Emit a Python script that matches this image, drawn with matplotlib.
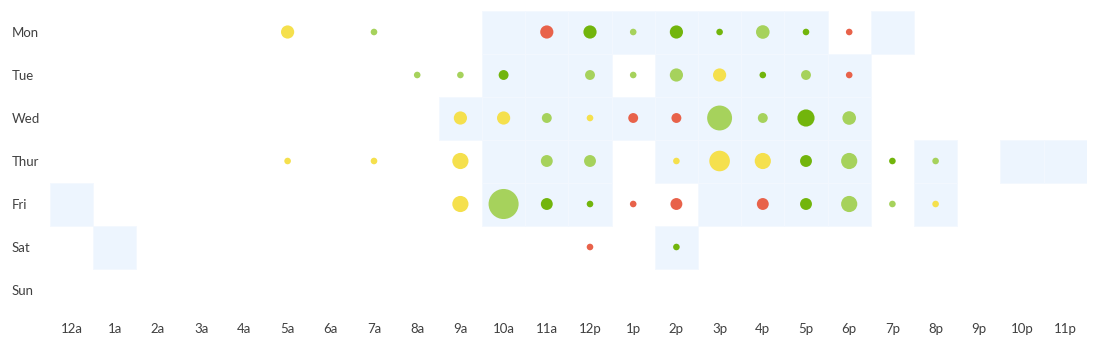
import matplotlib

matplotlib.use("Agg")
import matplotlib.pyplot as plt
import numpy as np

days = ["Mon", "Tue", "Wed", "Thur", "Fri", "Sat", "Sun"]
hour_labels = ["12a", "1a", "2a", "3a", "4a", "5a", "6a", "7a", "8a", "9a", "10a", "11a",
               "12p", "1p", "2p", "3p", "4p", "5p", "6p", "7p", "8p", "9p", "10p", "11p"]

# hours (0-23) that are shaded for each day
active_hours = {
    "Mon": [10, 11, 12, 13, 14, 15, 16, 17, 19],
    "Tue": [10, 11, 12, 14, 15, 16, 17, 18],
    "Wed": [9, 10, 11, 12, 13, 14, 15, 16, 17, 18],
    "Thur": [10, 11, 12, 14, 15, 16, 17, 18, 20, 22, 23],
    "Fri": [0, 10, 11, 12, 15, 16, 17, 18, 20],
    "Sat": [1, 14],
    "Sun": [],
}

# per day: hour, rating level, count
dot_hours = {
    "Mon": [5, 7, 11, 12, 13, 14, 15, 16, 17, 18],
    "Tue": [8, 9, 10, 12, 13, 14, 15, 16, 17, 18],
    "Wed": [9, 10, 11, 12, 13, 14, 15, 16, 17, 18],
    "Thur": [5, 7, 9, 11, 12, 14, 15, 16, 17, 18, 19, 20],
    "Fri": [9, 10, 11, 12, 13, 14, 16, 17, 18, 19, 20],
    "Sat": [12, 14],
    "Sun": [],
}
dot_levels = {
    "Mon": ["fair", "good", "poor", "great", "good", "great", "great", "good", "great", "poor"],
    "Tue": ["good", "good", "great", "good", "good", "good", "fair", "great", "good", "poor"],
    "Wed": ["fair", "fair", "good", "fair", "poor", "poor", "good", "good", "great", "good"],
    "Thur": ["fair", "fair", "fair", "good", "good", "fair", "fair", "fair", "great", "good",
             "great", "good"],
    "Fri": ["fair", "good", "great", "great", "poor", "poor", "poor", "great", "good", "good",
            "fair"],
    "Sat": ["poor", "great"],
    "Sun": [],
}
dot_counts = {
    "Mon": [16, 4, 16, 16, 4, 16, 4, 17, 4, 4],
    "Tue": [4, 4, 9, 9, 4, 16, 16, 4, 9, 4],
    "Wed": [16, 16, 9, 4, 9, 9, 57, 9, 27, 17],
    "Thur": [4, 4, 24, 13, 13, 4, 39, 24, 13, 24, 4, 4],
    "Fri": [24, 83, 13, 4, 4, 13, 13, 13, 24, 4, 4],
    "Sat": [4, 4],
    "Sun": [],
}

level_colors = {
    "poor": "#e8624a",
    "fair": "#f5e04d",
    "good": "#a6d25c",
    "great": "#72b50c",
}

DPI = 100
fig = plt.figure(figsize=(10.97, 3.42), dpi=DPI)
ax = fig.add_axes([50 / 1097, 1 - 311.5 / 342, (1086.8 - 50) / 1097, 301 / 342])

n_days, n_hours = len(days), len(hour_labels)

# shaded background cells, only where there was activity
for row, day in enumerate(days):
    hrs = active_hours[day]
    if not hrs:
        continue
    ax.bar(hrs, 1, width=1, bottom=row, align="edge", color="#edf5fe",
           edgecolor="#f3f8fe", linewidth=0.6, zorder=1)

# bubbles: diameter in px grows with sqrt of the count
for row, day in enumerate(days):
    hrs = np.array(dot_hours[day])
    if len(hrs) == 0:
        continue
    counts = np.array(dot_counts[day])
    diam_pt = 3.3 * np.sqrt(counts) * 72 / DPI
    colors = [level_colors[lv] for lv in dot_levels[day]]
    ax.scatter(hrs + 0.5, np.full(len(hrs), row + 0.5), s=diam_pt ** 2,
               c=colors, linewidths=0, zorder=3)

ax.set_xlim(0, n_hours)
ax.set_ylim(n_days, 0)
ax.set_xticks(np.arange(n_hours) + 0.5)
ax.set_xticklabels(hour_labels)
ax.set_yticks(np.arange(n_days) + 0.5)
ax.set_yticklabels(days, ha="left")
ax.tick_params(axis="both", length=0, labelsize=9.5, labelcolor="#404040")
ax.tick_params(axis="y", pad=27.4)
ax.tick_params(axis="x", pad=8.2)
for label in ax.get_xticklabels() + ax.get_yticklabels():
    label.set_fontfamily("Lato")
for spine in ax.spines.values():
    spine.set_visible(False)

fig.savefig("out.png", dpi=DPI)
